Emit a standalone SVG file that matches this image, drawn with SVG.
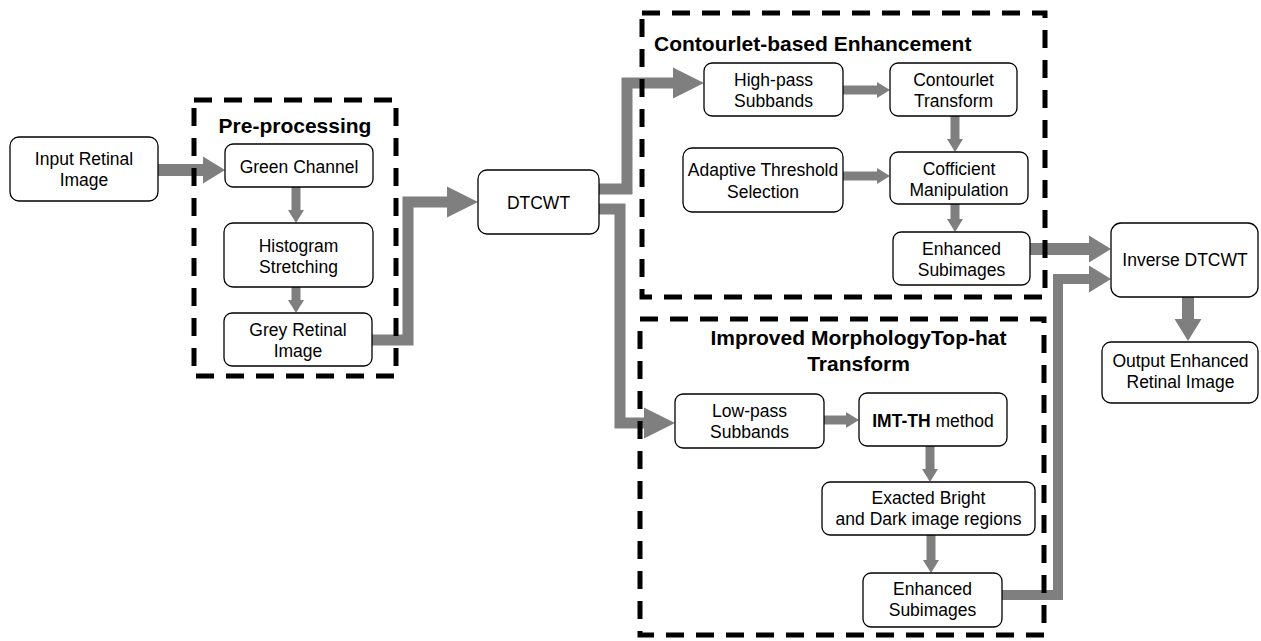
<svg xmlns="http://www.w3.org/2000/svg" width="1261" height="641" viewBox="0 0 1261 641">
<style>
.box{fill:#fff;stroke:#000;stroke-width:1.3}
.t{font-family:"Liberation Sans",Arial,sans-serif;font-size:17.5px;fill:#000;text-anchor:middle}
.title{font-family:"Liberation Sans",Arial,sans-serif;font-size:21px;font-weight:bold;fill:#000}
.frame{fill:none;stroke:#000;stroke-width:5;stroke-dasharray:18 12}
.big{fill:none;stroke:#7f7f7f;stroke-width:11;stroke-linejoin:miter;marker-end:url(#bigHead)}
.mid{fill:none;stroke:#7f7f7f;stroke-width:12;marker-end:url(#midHead)}
.small{fill:none;stroke:#7f7f7f;stroke-width:9;marker-end:url(#smallHead)}
</style>
<defs>
<marker id="bigHead" markerUnits="userSpaceOnUse" markerWidth="31" markerHeight="31" refX="0" refY="15.5" orient="auto" overflow="visible"><path d="M0,0 L31,15.5 L0,31 Z" fill="#7f7f7f"/></marker>
<marker id="midHead" markerUnits="userSpaceOnUse" markerWidth="22" markerHeight="27" refX="0" refY="13.5" orient="auto" overflow="visible"><path d="M0,0 L22,13.5 L0,27 Z" fill="#7f7f7f"/></marker>
<marker id="smallHead" markerUnits="userSpaceOnUse" markerWidth="13" markerHeight="16" refX="0" refY="8" orient="auto" overflow="visible"><path d="M0,0 L13,8 L0,16 Z" fill="#7f7f7f"/></marker>
</defs>
<rect width="1261" height="641" fill="#fff"/>

<g id="connectors">
<path class="mid" d="M158,170 H203"/>
<path class="small" d="M296,187 V210"/>
<path class="small" d="M296,287 V300"/>
<path class="big" d="M372,340 H408 V202 H447"/>
<path class="big" d="M599,189 H627 V83 H673"/>
<path class="big" d="M599,209 H620 V423 H644"/>
<path class="small" d="M843,90 H877"/>
<path class="small" d="M955,116 V139"/>
<path class="small" d="M843,176 H877"/>
<path class="small" d="M955,204 V219"/>
<path class="small" d="M824,420 H846"/>
<path class="small" d="M930,446 V469"/>
<path class="small" d="M931,535 V560"/>
<path class="mid" d="M1030,249 H1089"/>
<path class="big" style="stroke-width:10;marker-end:url(#midHead)" d="M1002,595 H1058 V279 H1089"/>
<path class="mid" d="M1188,297 V319"/>
</g>

<g id="preprocessing">
<rect class="frame" x="194" y="100" width="202" height="276"/>
<text class="title" x="295" y="133" text-anchor="middle">Pre-processing</text>
</g>
<g id="contourlet">
<rect class="frame" x="642" y="13" width="403" height="284"/>
<text class="title" x="654" y="51">Contourlet-based Enhancement</text>
</g>
<g id="morphology">
<rect class="frame" x="640" y="319" width="404" height="316"/>
<text class="title" x="858.5" y="345" text-anchor="middle">Improved MorphologyTop-hat</text>
<text class="title" x="858.5" y="371" text-anchor="middle">Transform</text>
</g>

<g id="input">
<rect class="box" x="10" y="137" width="148" height="64" rx="9"/>
<text class="t" x="84" y="165">Input Retinal</text>
<text class="t" x="84" y="186">Image</text>
</g>
<g id="green">
<rect class="box" x="225" y="144" width="148" height="43" rx="8"/>
<text class="t" x="299" y="173">Green Channel</text>
</g>
<g id="histogram">
<rect class="box" x="224" y="223" width="149" height="64" rx="9"/>
<text class="t" x="298.5" y="252">Histogram</text>
<text class="t" x="298.5" y="273">Stretching</text>
</g>
<g id="grey">
<rect class="box" x="224" y="313" width="148" height="53" rx="8"/>
<text class="t" x="298" y="336">Grey Retinal</text>
<text class="t" x="298" y="357">Image</text>
</g>
<g id="dtcwt">
<rect class="box" x="478" y="170" width="121" height="64" rx="9"/>
<text class="t" x="538.5" y="209">DTCWT</text>
</g>
<g id="highpass">
<rect class="box" x="704" y="63" width="139" height="53" rx="8"/>
<text class="t" x="773.5" y="86">High-pass</text>
<text class="t" x="773.5" y="107">Subbands</text>
</g>
<g id="contourletT">
<rect class="box" x="890" y="63" width="127" height="53" rx="8"/>
<text class="t" x="953.5" y="86">Contourlet</text>
<text class="t" x="953.5" y="107">Transform</text>
</g>
<g id="adaptive">
<rect class="box" x="683" y="148" width="160" height="64" rx="9"/>
<text class="t" x="763" y="176">Adaptive Threshold</text>
<text class="t" x="763" y="198">Selection</text>
</g>
<g id="cofficient">
<rect class="box" x="890" y="152" width="138" height="52" rx="8"/>
<text class="t" x="959" y="175">Cofficient</text>
<text class="t" x="959" y="196">Manipulation</text>
</g>
<g id="enhancedTop">
<rect class="box" x="893" y="232" width="137" height="53" rx="8"/>
<text class="t" x="961.5" y="255">Enhanced</text>
<text class="t" x="961.5" y="276">Subimages</text>
</g>
<g id="lowpass">
<rect class="box" x="675" y="394" width="149" height="54" rx="8"/>
<text class="t" x="749.5" y="417">Low-pass</text>
<text class="t" x="749.5" y="438">Subbands</text>
</g>
<g id="imtth">
<rect class="box" x="859" y="393" width="148" height="53" rx="8"/>
<text class="t" x="933" y="427"><tspan font-weight="bold">IMT-TH</tspan> method</text>
</g>
<g id="exacted">
<rect class="box" x="822" y="482" width="213" height="53" rx="8"/>
<text class="t" x="928.5" y="504">Exacted Bright</text>
<text class="t" x="928.5" y="525">and Dark image regions</text>
</g>
<g id="enhancedBottom">
<rect class="box" x="863" y="573" width="139" height="54" rx="8"/>
<text class="t" x="932.5" y="595">Enhanced</text>
<text class="t" x="932.5" y="616">Subimages</text>
</g>
<g id="inverse">
<rect class="box" x="1111" y="223" width="147" height="74" rx="10"/>
<text class="t" x="1185" y="266">Inverse DTCWT</text>
</g>
<g id="output">
<rect class="box" x="1102" y="342" width="156" height="61" rx="9"/>
<text class="t" x="1180.5" y="367">Output Enhanced</text>
<text class="t" x="1180.5" y="388">Retinal Image</text>
</g>
</svg>
